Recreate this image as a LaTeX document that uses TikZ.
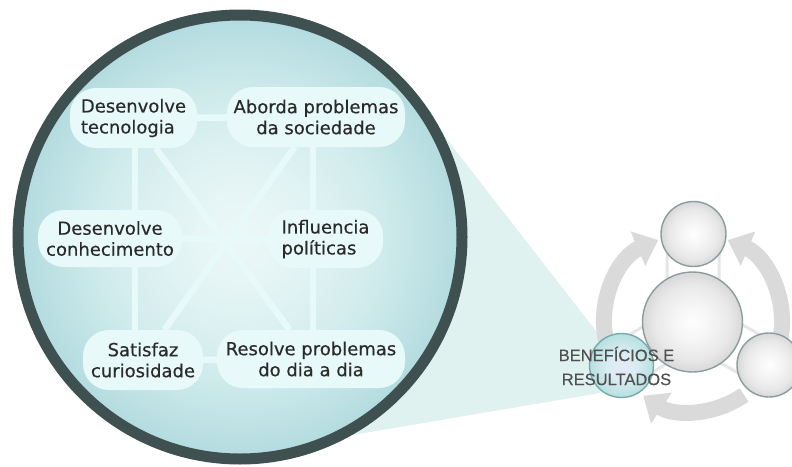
\documentclass[tikz,border=0pt]{standalone}
\usepackage{fontspec}
\setmainfont{DejaVu Sans}
\newfontfamily\pillfont[FakeBold=0.4]{DejaVu Sans}
\newfontfamily\arialfont[FakeBold=0.3]{Liberation Sans}
\usetikzlibrary{arrows.meta,calc}
\pgfdeclarelayer{bg}
\pgfdeclarelayer{mid}
\pgfsetlayers{bg,mid,main}

\definecolor{rimc}{HTML}{3F5050}
\definecolor{pillc}{HTML}{E8F9F9}
\definecolor{conec}{HTML}{DFF2F0}
\definecolor{ringc}{HTML}{DADADA}
\definecolor{ballrim}{HTML}{8C9C9C}
\definecolor{tealrim}{HTML}{78AAAA}
\definecolor{txtc}{HTML}{2A2A2A}
\definecolor{labc}{HTML}{505050}
\definecolor{faintc}{HTML}{E6E6E6}

\pgfdeclareradialshading{discshade}{\pgfpoint{0bp}{0bp}}{%
  color(0bp)=(rgb,255:red,236;green,248;blue,248);
  color(8bp)=(rgb,255:red,226;green,243;blue,243);
  color(16bp)=(rgb,255:red,208;green,235;blue,236);
  color(25bp)=(rgb,255:red,178;green,219;blue,223);
  color(50bp)=(rgb,255:red,178;green,219;blue,223)}
\pgfdeclareradialshading{ballshade}{\pgfpoint{0bp}{0bp}}{%
  color(0bp)=(rgb,255:red,254;green,254;blue,254);
  color(10bp)=(rgb,255:red,244;green,244;blue,244);
  color(19bp)=(rgb,255:red,232;green,232;blue,232);
  color(25bp)=(rgb,255:red,216;green,216;blue,216);
  color(50bp)=(rgb,255:red,216;green,216;blue,216)}
\pgfdeclareradialshading{tealshade}{\pgfpoint{0bp}{0bp}}{%
  color(0bp)=(rgb,255:red,230;green,234;blue,248);
  color(12bp)=(rgb,255:red,216;green,236;blue,242);
  color(25bp)=(rgb,255:red,182;green,224;blue,224);
  color(50bp)=(rgb,255:red,182;green,224;blue,224)}

\begin{document}
\begin{tikzpicture}[x=1pt,y=1pt,
  pill/.style={fill=pillc, rounded corners=26pt, inner sep=0pt,
    font=\pillfont\fontsize{18}{21}\selectfont, text=txtc},
  link/.style={draw=pillc, line width=6.5pt},
  ball/.style={circle, draw=ballrim, line width=1.4pt, shade, shading=ballshade, inner sep=0pt},
  tealball/.style={circle, draw=tealrim, line width=1.4pt, shade, shading=tealshade, inner sep=0pt},
  ringarrow/.style={draw=ringc, line width=16pt, -{Triangle[width=36pt,length=22pt]}},
  faint/.style={draw=faintc, line width=3pt}
]
\useasboundingbox (0,0) rectangle (792,-466);

% pills
\node[pill, minimum width=127pt, minimum height=60pt, align=left] (tec) at (133.5,-118) {Desenvolve\\tecnologia};
\node[pill, minimum width=178pt, minimum height=60pt, align=center] (abo) at (316,-117) {Aborda problemas\\da sociedade};
\node[pill, minimum width=144pt, minimum height=57pt, align=center] (con) at (110,-238.5) {Desenvolve\\conhecimento};
\node[pill, minimum width=115pt, minimum height=58pt, align=left] (inf) at (325.5,-239) {Influencia\\políticas};
\node[pill, minimum width=120pt, minimum height=60pt, align=center] (sat) at (143,-360) {Satisfaz\\curiosidade};
\node[pill, minimum width=188pt, minimum height=58pt, align=center] (res) at (311,-359) {Resolve problemas\\do dia a dia};

% small diagram
\node[ball, minimum size=100pt] (cen) at (692.5,-322) {};
\node[ball, minimum size=65pt] (top) at (693.5,-234) {};
\node[ball, minimum size=64pt] (rgt) at (769,-365) {};
\node[tealball, minimum size=64pt] (ben) at (621.5,-365.5) {};
\node[font=\arialfont\fontsize{16.5}{24}\selectfont, text=labc, align=center, inner sep=0pt] (lab) at (616.5,-366) {BENEFÍCIOS E\\RESULTADOS};

\begin{pgfonlayer}{bg}
  % magnifier cone
  \fill[conec] (240,-237) -- (417,-100.7) -- (610,-349) -- (610,-391.3) -- (280,-447.4) -- cycle;
  % big disc
  \shadedraw[draw=rimc, line width=11pt, shading=discshade] (240,-237) circle[radius=222];
  % ring arrows
  \coordinate (ringc) at (693,-322);
  \draw[ringarrow] (ringc) ++(192:89) arc[start angle=192, end angle=113, radius=89];
  \draw[ringarrow] (ringc) ++(-10:89) arc[start angle=-10, end angle=67, radius=89];
  \draw[ringarrow] (ringc) ++(305:89) arc[start angle=305, end angle=236, radius=89];
  % faint inner links
  \draw[faint] ($(cen)!26pt!90:(top)$) -- ($(top)!26pt!-90:(cen)$);
  \draw[faint] ($(cen)!26pt!-90:(top)$) -- ($(top)!26pt!90:(cen)$);
  \draw[faint] ($(cen)!22pt!90:(rgt)$) -- ($(rgt)!22pt!-90:(cen)$);
  \draw[faint] ($(cen)!22pt!-90:(rgt)$) -- ($(rgt)!22pt!90:(cen)$);
  \draw[faint] ($(cen)!22pt!90:(ben)$) -- ($(ben)!22pt!-90:(cen)$);
  \draw[faint] ($(cen)!22pt!-90:(ben)$) -- ($(ben)!22pt!90:(cen)$);
\end{pgfonlayer}

\begin{pgfonlayer}{mid}
  \draw[link] (tec) -- (abo);
  \draw[link] (sat) -- (res);
  \draw[link] (con) -- (inf);
  \draw[link] (tec) -- (res);
  \draw[link] (abo) -- (sat);
  \draw[link, transform canvas={xshift=1.5pt}] (tec) -- (tec |- sat);
  \draw[link, transform canvas={xshift=-3pt}] (abo) -- (abo |- res);
\end{pgfonlayer}
\end{tikzpicture}
\end{document}
